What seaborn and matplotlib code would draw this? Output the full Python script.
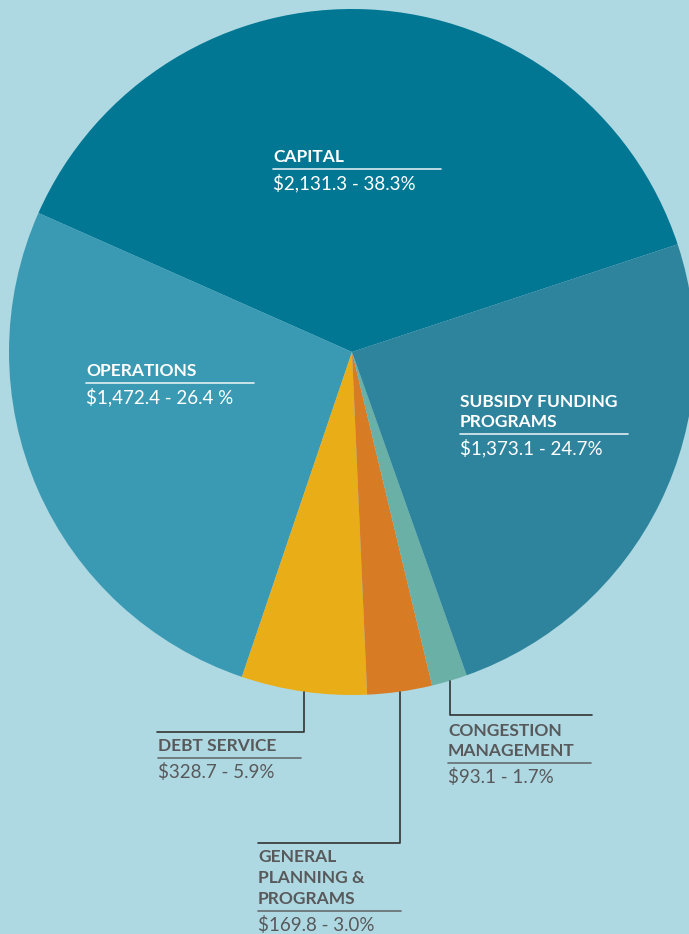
import matplotlib.pyplot as plt
import seaborn as sns
import numpy as np

# data
categories = ["CAPITAL", "OPERATIONS", "DEBT SERVICE", "GENERAL\nPLANNING &\nPROGRAMS",
              "CONGESTION\nMANAGEMENT", "SUBSIDY FUNDING\nPROGRAMS"]
amounts = [2131.3, 1472.4, 328.7, 169.8, 93.1, 1373.1]
value_labels = ["$2,131.3 - 38.3%", "$1,472.4 - 26.4 %", "$328.7 - 5.9%", "$169.8 - 3.0%",
                "$93.1 - 1.7%", "$1,373.1 - 24.7%"]
colors = ["#027793", "#3b9ab3", "#e9ad17", "#d77b25", "#6bb0a6", "#2f849d"]

bg = "#aed9e2"
grey = "#58595b"

sns.set_theme(style="white")
plt.rcParams['font.family'] = ['Lato', 'DejaVu Sans']

W, H = 689, 934
fig = plt.figure(figsize=(W / 100, H / 100), dpi=100, facecolor=bg)
ax = fig.add_axes([0, 0, 1, 1])
ax.set_facecolor(bg)

cx, cy, r = 352, 352, 343
# y axis is inverted (pixel-like coords), so clockwise in data = counterclockwise on screen
wedges, _ = ax.pie(amounts, colors=sns.color_palette(colors), startangle=-18.3,
                   counterclock=False, center=(cx, cy), radius=r,
                   wedgeprops=dict(linewidth=0))
ax.set_xlim(0, W)
ax.set_ylim(H, 0)
ax.axis('off')


def block(x, y_title, title, value, color, line_w=168, tsize=12.5, vsize=13.5, lh=20):
    lines = title.split("\n")
    for i, t in enumerate(lines):
        ax.text(x, y_title + i * lh, t, color=color, fontsize=tsize, fontweight='bold',
                va='center', ha='left')
    yl = y_title + (len(lines) - 1) * lh + 12
    ax.plot([x, x + line_w], [yl, yl], color=color, lw=1.2, alpha=0.85)
    ax.text(x, yl + 14, value, color=color, fontsize=vsize, va='center', ha='left')


# labels inside the pie
block(273, 157, categories[0], value_labels[0], "white")
block(86, 371, categories[1], value_labels[1], "white")
block(460, 402, categories[5], value_labels[5], "white")


def leader_x(w):
    mid = np.deg2rad((w.theta1 + w.theta2) / 2)
    return cx + r * np.cos(mid), cy + r * np.sin(mid)


# debt service
x0, y0 = leader_x(wedges[2])
ax.plot([x0, x0, 157], [y0, 732, 732], color="#333333", lw=1.2)
block(158, 746, categories[2], value_labels[2], grey, line_w=143)

# general planning
x0, y0 = leader_x(wedges[3])
ax.plot([x0, x0, 258], [y0, 843, 843], color="#333333", lw=1.2)
block(258, 857, categories[3], value_labels[3], grey, line_w=143, lh=21)

# congestion
x0, y0 = leader_x(wedges[4])
ax.plot([x0, x0, 592], [y0, 715, 715], color="#333333", lw=1.2)
block(448, 731, categories[4], value_labels[4], grey, line_w=143)

fig.savefig("out.png", dpi=100, facecolor=bg)
